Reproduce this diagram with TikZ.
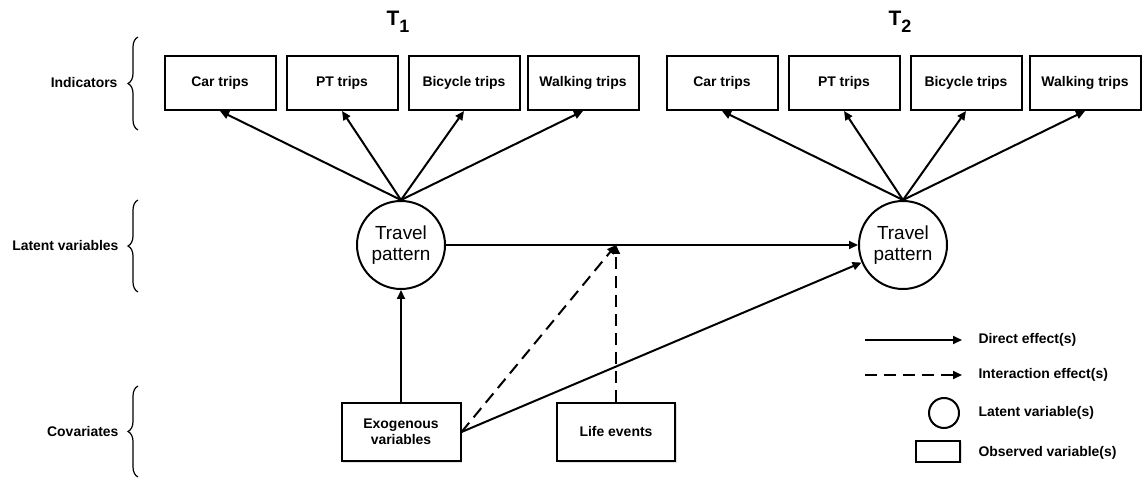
\documentclass[tikz,border=0pt]{standalone}
\usepackage{fontspec}
\setmainfont{Liberation Sans}
\usetikzlibrary{positioning, arrows.meta, decorations.pathreplacing, shadows}

\tikzset{
  obsbox/.style={draw, line width=2bp, fill=white, minimum width=111bp, minimum height=54bp,
    align=center, font=\fontsize{14}{16}\selectfont\bfseries,
    drop shadow={shadow xshift=1.5bp, shadow yshift=-1.5bp, opacity=0.25}},
  latent/.style={draw, circle, line width=2bp, minimum size=88bp, inner sep=0pt,
    align=center, font=\fontsize{19}{21}\selectfont},
  effect/.style={-{Triangle[length=9bp, width=8bp]}, line width=2bp},
  interact/.style={effect, dash pattern=on 12bp off 7bp},
  rowlab/.style={anchor=east, font=\fontsize{14}{16}\selectfont\bfseries},
  leglab/.style={anchor=west, font=\fontsize{14}{16}\selectfont\bfseries},
  rowbrace/.style={decorate, decoration={brace, amplitude=10bp}, line width=1.2bp},
  wavehead/.style={font=\fontsize{21}{22}\selectfont\bfseries},
}

\begin{document}
\begin{tikzpicture}[x=1bp, y=-1bp]
  \useasboundingbox (0,0) rectangle (1142,478);

  \node[rowlab] (indlab) at (121,83) {Indicators};
  \node[rowlab] (latlab) at (122,246) {Latent variables};
  \node[rowlab] (covlab) at (122,432) {Covariates};
  \draw[rowbrace] (138,130) -- (138,37);
  \draw[rowbrace] (138,292) -- (138,200);
  \draw[rowbrace] (138,477) -- (138,386);

  \foreach \t/\cx in {1/401, 2/903} {
    \node[latent] (tp\t) at (\cx,245) {Travel\\pattern};
    \node[wavehead] (head\t) at ({\cx-3},22) {T\raisebox{-7bp}{\fontsize{18}{18}\selectfont\t}};
    \foreach \m/\dx/\txt in {car/-181/Car trips, pt/-59/PT trips, bike/63/Bicycle trips, walk/182/Walking trips} {
      \node[obsbox] (\m\t) at ({\cx+\dx},83) {\txt};
      \draw[effect] (tp\t.north) -- (\m\t.south);
    }
  }

  \node[obsbox, minimum width=119bp, minimum height=58bp] (exo) at (401,432) {Exogenous\\variables};
  \node[obsbox, minimum width=118bp, minimum height=58bp] (life) at (616,432) {Life events};
  \coordinate (meet) at (life.north |- tp1.east);

  \draw[effect] (tp1) -- (tp2);
  \draw[effect] (exo) -- (tp1);
  \draw[effect] (exo.east) -- (tp2);
  \draw[interact] (exo.east) -- (meet);
  \draw[interact] (life) -- (meet);

  \coordinate (dir0) at (865,340);
  \coordinate (dir1) at (962,340);
  \coordinate (int0) at (865,375);
  \coordinate (int1) at (962,375);
  \draw[effect] (dir0) -- (dir1);
  \draw[interact] (int0) -- (int1);
  \node[draw, circle, line width=2bp, minimum size=30bp, inner sep=0pt] (legcirc) at (944,413) {};
  \node[draw, line width=2bp, fill=white, minimum width=44bp, minimum height=21bp, inner sep=0pt,
    drop shadow={shadow xshift=1.5bp, shadow yshift=-1.5bp, opacity=0.25}] (legbox) at (938,451) {};
  \node[leglab] (legdir) at (975,340) {Direct effect(s)};
  \node[leglab] (legint) at (975,375) {Interaction effect(s)};
  \node[leglab] (leglat) at (975,413) {Latent variable(s)};
  \node[leglab] (legobs) at (975,453) {Observed variable(s)};
\end{tikzpicture}
\end{document}
